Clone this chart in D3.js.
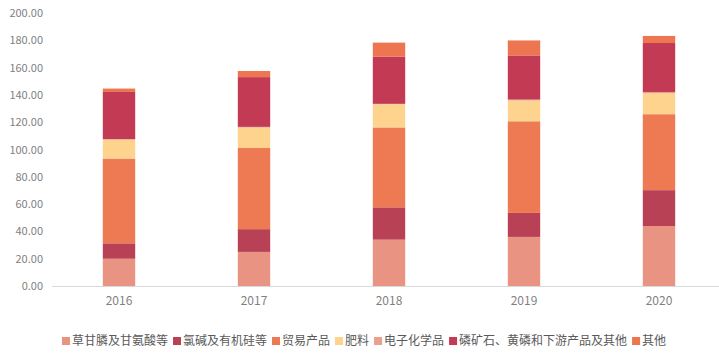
<!DOCTYPE html>
<html>
<head>
<meta charset="utf-8">
<script src="https://cdn.jsdelivr.net/npm/d3@7/dist/d3.min.js"></script>
<style>
  body { margin: 0; background: #fff; }
  svg { font-family: "Noto Sans CJK SC", "Noto Sans", sans-serif; }
</style>
</head>
<body>
<svg id="chart" width="719" height="353"></svg>
<script>
// years on the x axis
var years = ["2016", "2017", "2018", "2019", "2020"];
// series names, bottom to top
var seriesNames = ["草甘膦及甘氨酸等", "氯碱及有机硅等", "贸易产品", "肥料", "电子化学品", "磷矿石、黄磷和下游产品及其他", "其他"];
// values
var caogan = [20.0, 25.0, 34.0, 36.0, 44.0];
var lujian = [11.3, 16.7, 23.7, 17.6, 26.3];
var maoyi = [62.2, 59.5, 58.6, 67.2, 55.7];
var feiliao = [13.9, 15.0, 17.0, 15.3, 15.3];
var dianzi = [0.3, 0.5, 0.3, 0.6, 1.0];
var linkuang = [34.6, 36.5, 34.7, 32.4, 35.9];
var qita = [2.5, 4.5, 10.2, 11.0, 5.2];
var yTicks = [0, 20, 40, 60, 80, 100, 120, 140, 160, 180, 200];

var colors = ["#E99482", "#B94155", "#EE7A53", "#FDD38E", "#E9A08C", "#C23A54", "#ED7650"];

var allSeries = [caogan, lujian, maoyi, feiliao, dianzi, linkuang, qita];

// build table for the stack
var table = years.map(function(y, i) {
    var row = { year: y };
    seriesNames.forEach(function(n, j) { row[n] = allSeries[j][i]; });
    return row;
});

var svg = d3.select("#chart");

var x = d3.scaleBand().domain(years).range([51.5, 726.5]).paddingInner(0.76).paddingOuter(0.38);
var y = d3.scaleLinear().domain([0, 200]).range([286, 13.3]);

// y tick labels
svg.append("g").selectAll("text")
    .data(yTicks)
    .enter().append("text")
    .attr("x", 43)
    .attr("y", function(d) { return y(d); })
    .attr("dy", "0.35em")
    .attr("text-anchor", "end")
    .attr("font-size", "11px")
    .attr("fill", "#7f7f7f")
    .text(function(d) { return d.toFixed(2); });

// bars
var stack = d3.stack().keys(seriesNames)(table);

svg.append("g").selectAll("g")
    .data(stack)
    .enter().append("g")
    .attr("fill", function(d, i) { return colors[i]; })
    .selectAll("rect")
    .data(function(d) { return d; })
    .enter().append("rect")
    .attr("x", function(d) { return x(d.data.year); })
    .attr("y", function(d) { return y(d[1]); })
    .attr("width", x.bandwidth())
    .attr("height", function(d) { return y(d[0]) - y(d[1]); });

// x axis line
svg.append("line")
    .attr("x1", 52).attr("x2", 719)
    .attr("y1", y(0) + 0.5).attr("y2", y(0) + 0.5)
    .attr("stroke", "#d9d9d9");

// x labels
svg.append("g").selectAll("text")
    .data(years)
    .enter().append("text")
    .attr("x", function(d) { return x(d) + x.bandwidth() / 2; })
    .attr("y", 305)
    .attr("text-anchor", "middle")
    .attr("font-size", "12px")
    .attr("fill", "#7f7f7f")
    .text(function(d) { return d; });

// legend
var legend = svg.append("g");
var lx = 62;
seriesNames.forEach(function(n, i) {
    legend.append("rect")
        .attr("x", lx).attr("y", 337)
        .attr("width", 8).attr("height", 8)
        .attr("fill", colors[i]);
    var t = legend.append("text")
        .attr("x", lx + 10).attr("y", 341)
        .attr("dy", "0.35em")
        .attr("font-size", "12px")
        .attr("fill", "#595959")
        .text(n);
    lx = lx + 10 + t.node().getComputedTextLength() + 5;
});
</script>
</body>
</html>
